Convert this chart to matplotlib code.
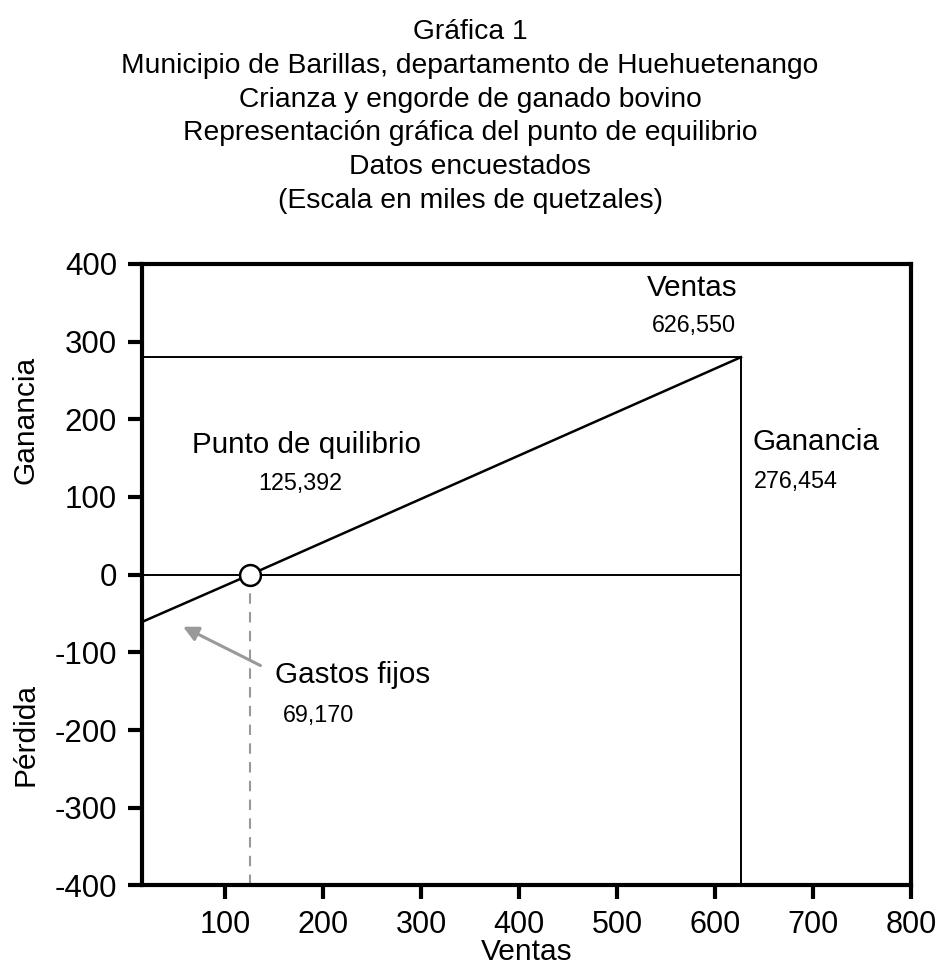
import matplotlib
matplotlib.use("Agg")
import matplotlib.pyplot as plt

plt.rcParams["font.family"] = ["Liberation Sans", "DejaVu Sans"]
plt.rcParams["axes.unicode_minus"] = False

# Datos (miles de quetzales)
ventas = 626.55
ganancia = 276.454
equilibrio = 125.392
gastos_fijos = 69.17
linea_x = [0, equilibrio, ventas]
linea_y = [-gastos_fijos, 0, 280]
x_ticks = [100, 200, 300, 400, 500, 600, 700, 800]
y_ticks = [-400, -300, -200, -100, 0, 100, 200, 300, 400]

titulo = ("Gráfica 1\n"
          "Municipio de Barillas, departamento de Huehuetenango\n"
          "Crianza y engorde de ganado bovino\n"
          "Representación gráfica del punto de equilibrio\n"
          "Datos encuestados\n"
          "(Escala en miles de quetzales)")

fig = plt.figure(figsize=(9.4, 9.74), dpi=100)
ax = fig.add_axes([0.151, 0.091, 0.818, 0.638])
ax.set_xlim(15, 800)
ax.set_ylim(-400, 400)

# Lineas de referencia
ax.plot([15, ventas], [linea_y[-1], linea_y[-1]], color="black", lw=1.4, zorder=2)
ax.plot([15, ventas], [0, 0], color="black", lw=1.4, zorder=2)
ax.plot([ventas, ventas], [-400, linea_y[-1]], color="black", lw=1.4, zorder=2)
ax.plot([equilibrio, equilibrio], [-400, 0], color="#999999", lw=1.5,
        dashes=(5, 4), zorder=1)

# Linea de ganancia
ax.plot(linea_x, linea_y, color="black", lw=1.8, zorder=3)
ax.plot([equilibrio], [0], marker="o", ms=15, mfc="white", mec="black",
        mew=1.8, zorder=4)

# Flecha gastos fijos
ax.annotate("", xy=(57, -67), xytext=(136, -117),
            arrowprops=dict(arrowstyle="-|>,head_length=0.9,head_width=0.45",
                            color="#999999", lw=2.2, shrinkA=0, shrinkB=0))

big = 21.3
small = 16.8
ax.text(66, 157, "Punto de quilibrio", fontsize=big)
ax.text(133.5, 109, "125,392", fontsize=small)
ax.text(530, 359, "Ventas", fontsize=big)
ax.text(536, 312, "626,550", fontsize=small)
ax.text(638, 161, "Ganancia", fontsize=big)
ax.text(639.5, 111, "276,454", fontsize=small)
ax.text(151, -139, "Gastos fijos", fontsize=big)
ax.text(159, -190, "69,170", fontsize=small)

ax.set_xticks(x_ticks)
ax.set_yticks(y_ticks)
ax.tick_params(axis="both", direction="out", length=10, width=3, pad=8)
ax.tick_params(axis="y", labelsize=22.5)
ax.tick_params(axis="x", labelsize=22)
for sp in ax.spines.values():
    sp.set_linewidth(3)

ax.set_xlabel("Ventas", fontsize=21.5, labelpad=-2)

fig.text(0.027, 1 - 420 / 974, "Ganancia", rotation=90, fontsize=21.5,
         ha="center", va="center")
fig.text(0.027, 1 - 735 / 974, "Pérdida", rotation=90, fontsize=21.5,
         ha="center", va="center")

fig.text(0.5, 1 - 19 / 974, titulo, fontsize=20.3, ha="center", va="top",
         linespacing=1.39)

fig.savefig("out.png", dpi=100, facecolor="white")
